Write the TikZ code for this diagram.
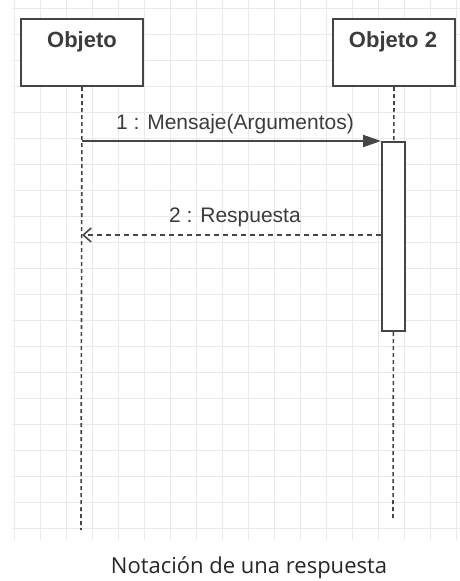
\documentclass[tikz,border=0pt]{standalone}
\usepackage{fontspec}
\setmainfont{Liberation Sans}
\newfontfamily\capfont{Open Sans}
\usetikzlibrary{arrows.meta}
\definecolor{gridc}{HTML}{EAEAEA}
\definecolor{linec}{HTML}{454545}
\definecolor{txtc}{HTML}{3C3C3C}
\definecolor{capc}{HTML}{262626}
\begin{document}
\begin{tikzpicture}[x=1pt,y=-1pt,
  gridline/.style={draw=gridc,line width=0.9pt},
  objbox/.style={draw=linec,line width=2pt,fill=white,minimum width=122pt,minimum height=67pt,anchor=north west,inner sep=0pt},
  objlabel/.style={text=txtc,font=\fontsize{22}{25}\selectfont\bfseries,inner sep=0pt},
  lifeline/.style={draw=linec,line width=1.6pt,dash pattern=on 4pt off 3pt},
  actbox/.style={draw=linec,line width=2pt,fill=white,minimum width=23pt,minimum height=189pt,anchor=north west,inner sep=0pt},
  callmsg/.style={draw=linec,line width=2pt,-{Triangle[length=18pt,width=12pt]}},
  replymsg/.style={draw=linec,line width=1.6pt,dash pattern=on 5pt off 4pt,-{Straight Barb[length=8pt,width=14pt]}},
  msglabel/.style={text=txtc,font=\fontsize{21}{25}\selectfont,inner sep=0pt},
  caption/.style={text=capc,font=\capfont\fontsize{22}{26}\selectfont,inner sep=0pt}]
\useasboundingbox (0,0) rectangle (460,581);
\fill[white] (0,0) rectangle (460,581);
% background grid
\foreach \gx in {14,40,66,92,118,144,170,196,222,248,274,300,326,352,378,404,430,456}
  \draw[gridline] (\gx,0) -- (\gx,540);
\foreach \gy in {8,34,60,86,112,138,164,190,216,242,268,294,320,346,372,398,424,450,476,502,528}
  \draw[gridline] (12,\gy) -- (460,\gy);
% objects
\node[objbox] (o1) at (20,18) {};
\node[objbox] (o2) at (332,18) {};
\node[objlabel] (o1t) at (82,42) {Objeto};
\node[objlabel] (o2t) at (393,42) {Objeto 2};
% lifelines
\coordinate (l1end) at (81,530);
\coordinate (l2end) at (393,520);
\draw[lifeline] (o1.south) -- (l1end);
\draw[lifeline] (o2.south) -- (l2end);
% activation
\node[actbox] (act) at (381,141) {};
% message 1
\draw[callmsg] (act.north west -| o1.south) -- (act.north west);
\node[msglabel] (m1) at (235,124) {1 : Mensaje(Argumentos)};
% message 2
\path (act.north west) ++(0,94) coordinate (r2s);
\draw[replymsg] (r2s) -- (r2s -| o1.south);
\node[msglabel] (m2) at (235,217) {2 : Respuesta};
% caption
\node[caption] (cap) at (249,568) {Notación de una respuesta};
\end{tikzpicture}
\end{document}
